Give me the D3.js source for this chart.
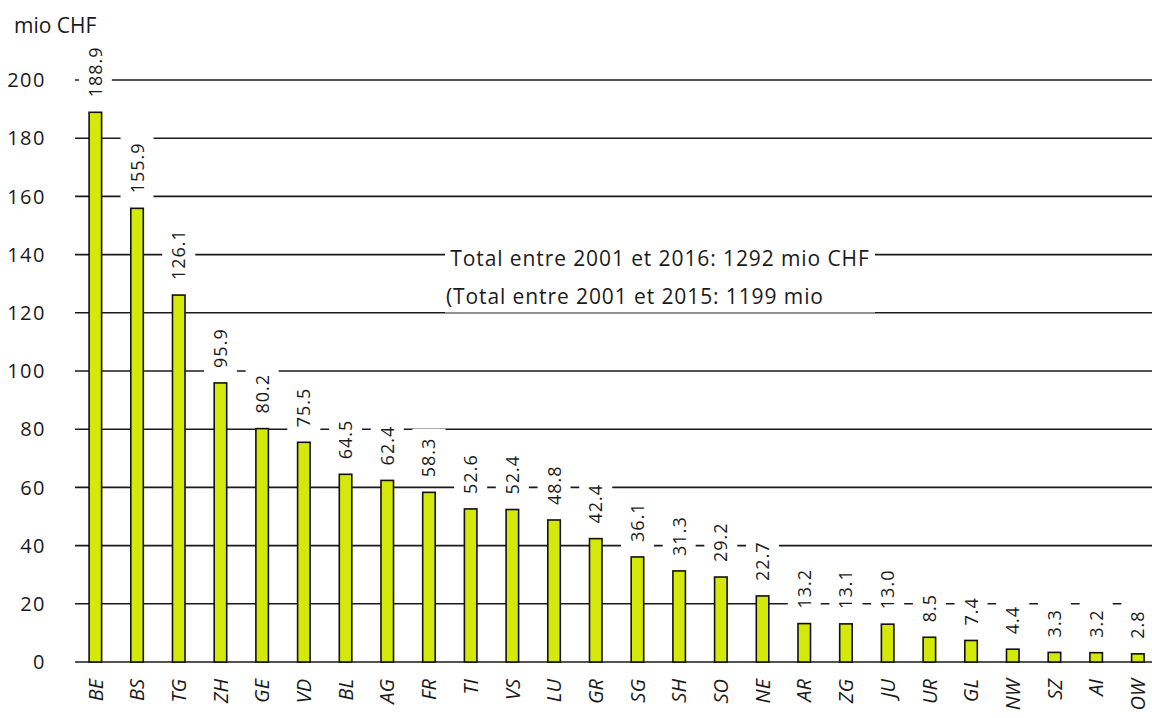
<!DOCTYPE html>
<html><head><meta charset="utf-8">
<script src="https://cdn.jsdelivr.net/npm/d3@7"></script>
<style>
html,body{margin:0;padding:0;background:#fff;}
svg{display:block;font-family:"Open Sans",sans-serif;}
</style></head>
<body>
<svg id="chart" width="1152" height="718"></svg>
<script>
const cantons = ["BE","BS","TG","ZH","GE","VD","BL","AG","FR","TI","VS","LU","GR","SG","SH","SO","NE","AR","ZG","JU","UR","GL","NW","SZ","AI","OW"];
const values = [188.9,155.9,126.1,95.9,80.2,75.5,64.5,62.4,58.3,52.6,52.4,48.8,42.4,36.1,31.3,29.2,22.7,13.2,13.1,13.0,8.5,7.4,4.4,3.3,3.2,2.8];
const yTicks = [0,20,40,60,80,100,120,140,160,180,200];
const unitLabel = "mio CHF";
const note1 = "Total entre 2001 et 2016: 1292 mio CHF";
const note2 = "(Total entre 2001 et 2015: 1199 mio";

const svg = d3.select("#chart");
const x = d3.scaleBand().domain(cantons).range([74.5, 1158.7]).paddingInner(0.7).paddingOuter(0.35);
const y = d3.scaleLinear().domain([0,200]).range([662,80]);
const data = cantons.map((c,i)=>({c, v: values[i]}));

// gridlines
svg.append("g").selectAll("line").data(yTicks).join("line")
  .attr("x1",75).attr("x2",1152)
  .attr("y1",d=>y(d)).attr("y2",d=>y(d))
  .attr("stroke","#1a1a1a").attr("stroke-width",1.6);

// y tick labels
svg.append("g").selectAll("text").data(yTicks).join("text")
  .attr("x",46).attr("y",d=>y(d)).attr("dy","0.36em")
  .attr("text-anchor","end").attr("font-size",20).attr("letter-spacing",1.5).attr("fill","#1a1a1a")
  .text(d=>d);

svg.append("text").attr("x",14).attr("y",33).attr("font-size",21).attr("fill","#1a1a1a").text(unitLabel);

// note box
svg.append("rect").attr("x",445).attr("y",238).attr("width",430).attr("height",74.5).attr("fill","#fff");
svg.append("line").attr("x1",445).attr("x2",875).attr("y1",y(120)+0.5).attr("y2",y(120)+0.5).attr("stroke","#999").attr("stroke-width",1);
svg.append("text").attr("x",660).attr("y",266).attr("text-anchor","middle").attr("font-size",21).attr("letter-spacing",0.9).attr("fill","#1a1a1a").text(note1);
svg.append("text").attr("x",446).attr("y",304).attr("text-anchor","start").attr("font-size",21).attr("letter-spacing",0.9).attr("fill","#1a1a1a").text(note2);

// value labels with white boxes
const lblG = svg.append("g");
const labels = lblG.selectAll("g").data(data).join("g")
  .attr("transform",d=>`translate(${x(d.c)+x.bandwidth()/2},${y(d.v)-15}) rotate(-90)`);
labels.append("rect").attr("class","bg");
labels.append("text").attr("x",0).attr("y",0).attr("dy","0.36em")
  .attr("font-size",18).attr("fill","#1a1a1a").attr("letter-spacing",1)
  .text(d=>d.v.toFixed(1));
labels.each(function(){
  const g = d3.select(this);
  const len = g.select("text").node().getComputedTextLength();
  g.select("rect").attr("x",-5).attr("y",-16.5).attr("width",len+14).attr("height",33).attr("fill","#fff");
});

// bars
svg.append("g").selectAll("rect").data(data).join("rect")
  .attr("x",d=>x(d.c)).attr("width",x.bandwidth())
  .attr("y",d=>y(d.v)).attr("height",d=>y(0)-y(d.v))
  .attr("fill","#d4e80a").attr("stroke","#111").attr("stroke-width",1.6);

// x labels
svg.append("g").selectAll("text").data(cantons).join("text")
  .attr("transform",d=>`translate(${x(d)+x.bandwidth()/2},${679}) rotate(-90)`)
  .attr("text-anchor","end").attr("dy","0.36em")
  .attr("font-size",20).attr("font-style","italic").attr("fill","#1a1a1a")
  .text(d=>d);
</script>
</body></html>
